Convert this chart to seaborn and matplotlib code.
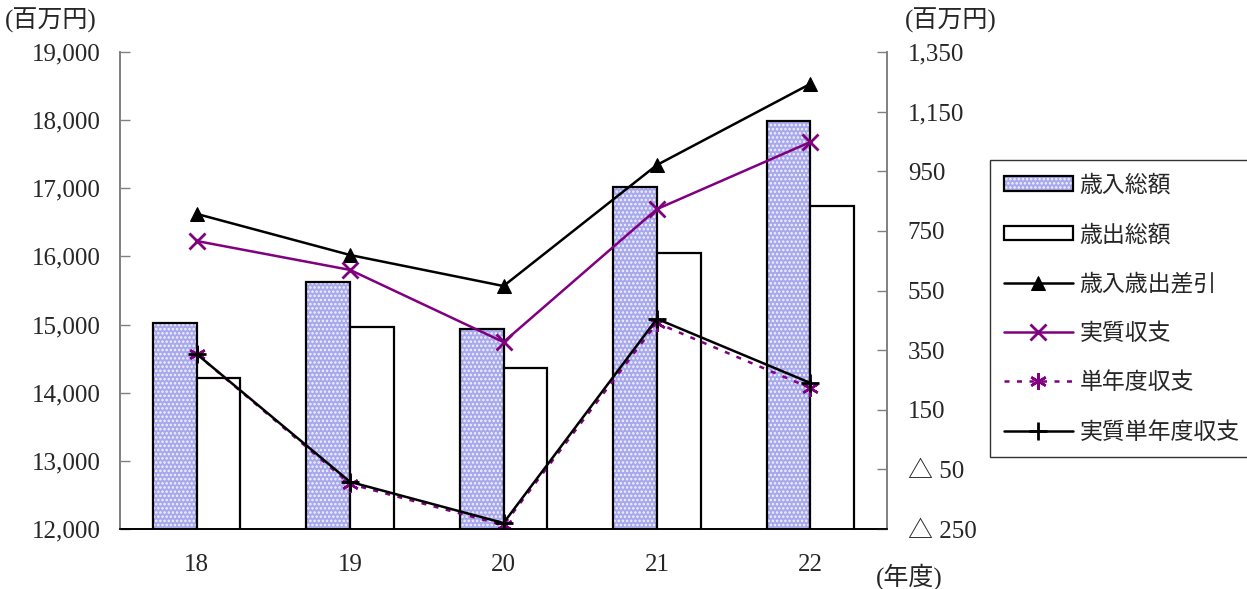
import matplotlib
matplotlib.use("Agg")
import matplotlib.pyplot as plt
import matplotlib.ticker as mticker
import pandas as pd
import seaborn as sns

# Fiscal years (Heisei) and amounts in millions of yen
years = ["18", "19", "20", "21", "22"]
revenue_total = [15020, 15630, 14935, 17020, 17990]      # 歳入総額
expenditure_total = [14215, 14965, 14365, 16050, 16740]  # 歳出総額
balance = [807, 669, 565, 971, 1243]                     # 歳入歳出差引
real_balance = [716, 619, 377, 823, 1048]                # 実質収支
single_year = [337, -99, -237, 441, 223]                 # 単年度収支
real_single_year = [337, -92, -230, 455, 240]            # 実質単年度収支

bar_names = ["歳入総額", "歳出総額"]
line_names = ["歳入歳出差引", "実質収支", "単年度収支", "実質単年度収支"]

sns.set_theme(style="white")
plt.rcParams["font.family"] = ["Liberation Serif", "Noto Sans CJK JP", "DejaVu Sans"]
plt.rcParams["hatch.linewidth"] = 1.2

bars = pd.DataFrame({
    "年度": years * 2,
    "系列": [bar_names[0]] * len(years) + [bar_names[1]] * len(years),
    "金額": revenue_total + expenditure_total,
})

fig = plt.figure(figsize=(12.47, 5.89), dpi=100)
ax = fig.add_axes([120 / 1247, 1 - 529 / 589, 767 / 1247, 477 / 589])

sns.barplot(data=bars, x="年度", y="金額", hue="系列", ax=ax,
            palette={bar_names[0]: "#9c9cf8", bar_names[1]: "white"},
            width=0.57, edgecolor="black", linewidth=1.6, legend=False)
# dotted white texture on the revenue bars
for patch in ax.patches[:len(years)]:
    patch.set_hatch("....")
    patch._hatch_color = (1.0, 1.0, 1.0, 0.85)

ax.set_ylim(12000, 19000)
ax.set_xlim(-0.5, len(years) - 0.5)
ax.set_yticks(range(12000, 19001, 1000))
ax.yaxis.set_major_formatter(mticker.FuncFormatter(lambda v, p: f"{int(v):,}"))
ax.set_xlabel("")
ax.set_ylabel("")

ax2 = ax.twinx()
xs = list(range(len(years)))
purple = "#800080"
line_styles = [
    (balance, dict(color="black", marker="^", markersize=10, mec="black", mfc="black",
                   linestyle="-")),
    (real_balance, dict(color=purple, marker="x", markersize=11, mec=purple,
                        markeredgewidth=2, linestyle="-")),
    (single_year, dict(color=purple, marker=(6, 2, 0), markersize=12, mec=purple,
                       markeredgewidth=1.8, linestyle=(0, (2, 3)))),
    (real_single_year, dict(color="black", marker="+", markersize=13, mec="black",
                            markeredgewidth=2, linestyle="-")),
]
line_handles = []
for name, (vals, style) in zip(line_names, line_styles):
    sns.lineplot(x=xs, y=vals, ax=ax2, linewidth=1.8, label=name, **style)
    line_handles.append(ax2.lines[-1])
ax2.set_ylim(-250, 1350)
ax2.set_yticks(range(-250, 1351, 200))
ax2.yaxis.set_major_formatter(mticker.FuncFormatter(
    lambda v, p: f"△ {abs(int(v)):,}" if v < 0 else f"{int(v):,}"))
ax2.set_xlim(-0.5, len(years) - 0.5)
ax2.get_legend().remove()

for a in (ax, ax2):
    a.spines["top"].set_visible(False)
    a.spines["left"].set_color("#808080")
    a.spines["right"].set_color("#808080")
    a.spines["bottom"].set_color("black")
    for s in a.spines.values():
        s.set_linewidth(1.2)
    a.grid(False)

ax.tick_params(axis="y", direction="in", length=7, width=1, color="#808080",
               labelsize=18, pad=14, left=True, right=False)
ax.tick_params(axis="x", length=0, labelsize=18, pad=18)
ax2.tick_params(axis="y", direction="in", length=7, width=1, color="#808080",
                labelsize=18, pad=15, right=True, left=False)

fig.text(5 / 1247, 1 - 20 / 589, "(百万円)", fontsize=18, va="center", ha="left")
fig.text(905 / 1247, 1 - 20 / 589, "(百万円)", fontsize=18, va="center", ha="left")
fig.text(876 / 1247, 1 - 577 / 589, "(年度)", fontsize=18, va="center", ha="left")

handles = [ax.patches[0], ax.patches[len(years)]] + line_handles
labels = bar_names + line_names
leg = fig.legend(handles, labels, loc="upper left",
                 bbox_to_anchor=(990 / 1247, 1 - 160 / 589),
                 prop={"family": ["Noto Sans CJK JP", "DejaVu Sans"], "size": 16.5},
                 frameon=True, fancybox=False, edgecolor="black",
                 handlelength=3.0, handleheight=0.6, labelspacing=1.15,
                 borderpad=0.6, handletextpad=0.3, borderaxespad=0)
leg.get_frame().set_linewidth(1.0)

fig.savefig("out.png", dpi=100)
